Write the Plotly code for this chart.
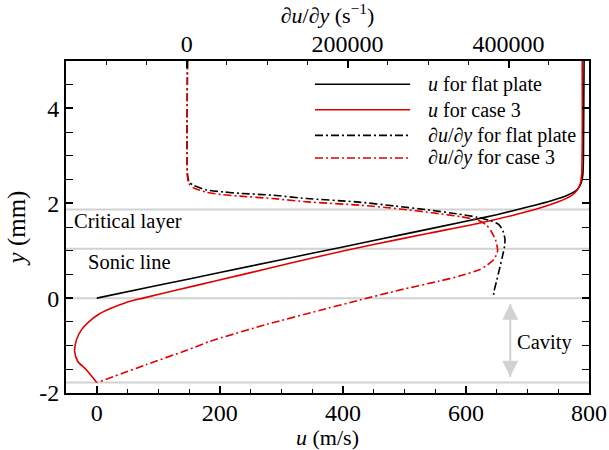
import plotly.graph_objects as go

# ---------------- data ----------------
# u (m/s) profiles, bottom axis, y in mm
u_flat_u = [0, 100, 200, 300, 400, 500, 600, 650, 700, 740, 765, 780, 787, 790, 791, 792]
u_flat_y = [0, 0.27, 0.54, 0.81, 1.08, 1.35, 1.62, 1.76, 1.92, 2.06, 2.17, 2.28, 2.42, 2.6, 3.0, 5.0]

u_case3_u = [0, -17, -31, -36, -33, -25, -13, 2, 22, 48, 75, 130, 194, 280, 361, 450, 540,
             621, 680, 720, 750, 770, 781, 786, 788, 789]
u_case3_y = [-1.78, -1.51, -1.33, -1.12, -0.88, -0.67, -0.5, -0.35, -0.22, -0.09, 0.0, 0.17,
             0.365, 0.63, 0.88, 1.13, 1.37, 1.58, 1.76, 1.90, 2.03, 2.15, 2.28, 2.42, 2.6, 5.0]

# du/dy (1/s) profiles, top axis
dudy_flat = [1000, 1000, 3000, 8300, 24800, 45400, 66000, 107000, 148800, 210800, 260000,
             300000, 335000, 360000, 378000, 388000, 393000, 395500, 395000, 392000, 388500,
             385000, 382000, 381000]
dudy_flat_y = [5.0, 2.6, 2.45, 2.38, 2.28, 2.24, 2.21, 2.17, 2.10, 2.03, 1.94,
               1.86, 1.78, 1.71, 1.63, 1.55, 1.42, 1.25, 1.09, 0.85, 0.6,
               0.35, 0.15, 0.0]

dudy_case3 = [1000, 1000, 2500, 8000, 25000, 45000, 66000, 107000, 150000, 215000, 265000,
              305000, 340000, 362000, 372000, 378000, 384000, 386400, 382000, 372000, 364000,
              340000, 314000, 264500, 215000, 165000, 100000, 29000, 0, -50000, -111000]
dudy_case3_y = [5.0, 2.55, 2.42, 2.33, 2.23, 2.18, 2.15, 2.10, 2.03, 1.96, 1.88,
                1.80, 1.72, 1.64, 1.55, 1.42, 1.22, 1.0, 0.82, 0.68, 0.6,
                0.47, 0.36, 0.17, -0.04, -0.26, -0.55, -0.91, -1.1, -1.4, -1.78]

# reference levels (mm): critical layer, sonic line, wall, cavity bottom
ref_levels = [1.87, 1.04, 0.0, -1.78]

# cavity depth arrow (u position, y ends in mm)
cavity_arrow_u = [672, 672]
cavity_arrow_y = [-0.12, -1.66]

x_ticks = [0, 200, 400, 600, 800]
x2_ticks = [0, 200000, 400000]
y_ticks = [-2, 0, 2, 4]
y_ticklabels = ["-2", "0", "2", "4"]

legend_labels = ["<i>u</i> for flat plate", "<i>u</i> for case 3",
                 "<i>∂u</i>/<i>∂y</i> for flat plate", "<i>∂u</i>/<i>∂y</i> for case 3"]

# ---------------- styling ----------------
FONT = "'Liberation Serif', 'Times New Roman', 'DejaVu Serif', serif"
RED = "#e00000"
BLACK = "#000000"
GRAY = "#d2d2d2"
DASHDOT = "8px,3px,2px,3px"

fig = go.Figure()

fig.add_trace(go.Scatter(x=cavity_arrow_u, y=cavity_arrow_y, xaxis="x", yaxis="y",
                         mode="lines+markers", line=dict(color=GRAY, width=2),
                         marker=dict(symbol=["arrow-up", "arrow-down"], size=16, color=GRAY,
                                     line=dict(width=0)),
                         showlegend=False, hoverinfo="skip"))
fig.add_trace(go.Scatter(x=dudy_flat, y=dudy_flat_y, xaxis="x2", yaxis="y", mode="lines",
                         line=dict(color=BLACK, width=1.6, dash=DASHDOT, shape="spline", smoothing=0.6),
                         showlegend=False))
fig.add_trace(go.Scatter(x=dudy_case3, y=dudy_case3_y, xaxis="x2", yaxis="y", mode="lines",
                         line=dict(color=RED, width=1.6, dash=DASHDOT, shape="spline", smoothing=0.6),
                         showlegend=False))
fig.add_trace(go.Scatter(x=u_flat_u, y=u_flat_y, xaxis="x", yaxis="y", mode="lines",
                         line=dict(color=BLACK, width=1.6, shape="spline", smoothing=0.6),
                         showlegend=False))
fig.add_trace(go.Scatter(x=u_case3_u, y=u_case3_y, xaxis="x", yaxis="y", mode="lines",
                         line=dict(color=RED, width=1.6, shape="spline", smoothing=0.8),
                         showlegend=False))

shapes = []
for lv in ref_levels:
    shapes.append(dict(type="line", xref="paper", yref="y", x0=0, x1=1, y0=lv, y1=lv,
                       line=dict(color=GRAY, width=2), layer="below"))

# manual legend (long line samples as in the reference)
leg_styles = [dict(color=BLACK, width=1.6), dict(color=RED, width=1.6),
              dict(color=BLACK, width=1.6, dash=DASHDOT), dict(color=RED, width=1.6, dash=DASHDOT)]
leg_rows = [0.930, 0.853, 0.776, 0.708]
annotations = []
for lab, st, ry in zip(legend_labels, leg_styles, leg_rows):
    shapes.append(dict(type="line", xref="paper", yref="paper", x0=0.476, x1=0.658,
                       y0=ry, y1=ry, line=st))
    annotations.append(dict(xref="paper", yref="paper", x=0.688, y=ry, text=lab,
                            showarrow=False, xanchor="left", yanchor="middle",
                            font=dict(family=FONT, size=20, color="black")))

annotations += [
    dict(xref="x", yref="y", x=-40, y=1.61, text="Critical layer", showarrow=False,
         xanchor="left", yanchor="middle", font=dict(family=FONT, size=20.5, color="black")),
    dict(xref="x", yref="y", x=-17, y=0.76, text="Sonic line", showarrow=False,
         xanchor="left", yanchor="middle", font=dict(family=FONT, size=20.5, color="black")),
    dict(xref="x", yref="y", x=727, y=-0.93, text="Cavity", showarrow=False,
         xanchor="center", yanchor="middle", font=dict(family=FONT, size=20.5, color="black")),
]

axis_common = dict(showline=True, linecolor="black", linewidth=2, ticks="inside",
                   tickcolor="black", tickwidth=1.5, showgrid=False, zeroline=False,
                   automargin=False,
                   tickfont=dict(family=FONT, size=24, color="black"))

fig.update_layout(
    width=609, height=450,
    margin=dict(l=66, r=20, t=61, b=57),
    paper_bgcolor="white", plot_bgcolor="white",
    showlegend=False,
    font=dict(family=FONT, color="black"),
    shapes=shapes, annotations=annotations,
    xaxis=dict(range=[-50, 800], tickvals=x_ticks, ticklen=7,
               ticklabelstandoff=-3,
               minor=dict(dtick=50, tick0=0, ticks="inside", ticklen=4, tickcolor="black", tickwidth=1.2),
               title=dict(text="<i>u</i> (m/s)", font=dict(family=FONT, size=22, color="black"), standoff=7),
               mirror=False, **axis_common),
    xaxis2=dict(range=[-150000, 500000], overlaying="x", side="top", anchor="y",
                tickvals=x2_ticks, ticktext=[str(v) for v in x2_ticks], ticklen=7,
                ticklabelstandoff=-3,
                minor=dict(dtick=50000, tick0=0, ticks="inside", ticklen=4, tickcolor="black", tickwidth=1.2),
                title=dict(text="<i>∂u</i>/<i>∂y</i> (s<sup>−1</sup>)", font=dict(family=FONT, size=22, color="black"), standoff=10),
                **axis_common),
    yaxis=dict(range=[-2, 5], tickvals=y_ticks, ticktext=y_ticklabels, ticklen=7,
               minor=dict(dtick=0.5, tick0=0, ticks="inside", ticklen=4, tickcolor="black", tickwidth=1.2),
               title=dict(text="<i>y</i> (mm)", font=dict(family=FONT, size=25, color="black"), standoff=6),
               mirror="allticks", **axis_common),
)

fig.write_html("out.html")
